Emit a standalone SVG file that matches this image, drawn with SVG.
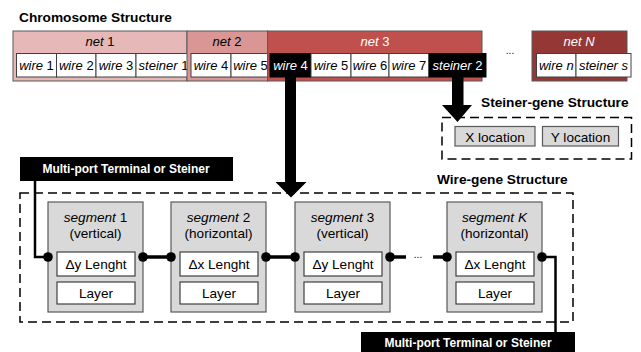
<svg xmlns="http://www.w3.org/2000/svg" width="641" height="352" viewBox="0 0 641 352">
<style>
text{font-family:"Liberation Sans",Arial,sans-serif;fill:#000}
.title{font-size:13.7px;font-weight:bold}
.lab{font-size:13px;text-anchor:middle}
.sl{font-size:13.6px;text-anchor:middle}
.it{font-style:italic}
.net{stroke:#595959;stroke-width:1}
.cell{fill:#fff;stroke:#404040;stroke-width:1}
.cellb{fill:#000;stroke:#000;stroke-width:1}
.w{fill:#fff}
.seg{fill:#d9d9d9;stroke:#595959;stroke-width:1.2}
.inner{fill:#fff;stroke:#404040;stroke-width:1.2}
.dash{fill:none;stroke:#000;stroke-width:1.5;stroke-dasharray:9 5}
.conn{fill:none;stroke:#000;stroke-width:3.5}
.thin{fill:none;stroke:#000;stroke-width:2.5}
.blk{fill:#000}
.tag{font-size:12px;font-weight:bold;fill:#fff;text-anchor:middle}
</style>

<g id="chromosome">
  <text class="title" x="19" y="22">Chromosome Structure</text>
</g>

<g id="net1">
  <rect class="net" x="13" y="31" width="174" height="50" fill="#e6b9b8"/>
  <text class="lab" x="100" y="46"><tspan class="it">net</tspan> 1</text>
  <rect class="cell" x="16.5" y="53.5" width="40" height="23.5"/>
  <rect class="cell" x="56.5" y="53.5" width="39.5" height="23.5"/>
  <rect class="cell" x="96" y="53.5" width="40" height="23.5"/>
  <rect class="cell" x="136" y="53.5" width="55" height="23.5"/>
  <text class="lab" x="36.5" y="70"><tspan class="it">wire</tspan> 1</text>
  <text class="lab" x="76.3" y="70"><tspan class="it">wire</tspan> 2</text>
  <text class="lab" x="116" y="70"><tspan class="it">wire</tspan> 3</text>
  <text class="lab" x="163.5" y="70"><tspan class="it">steiner</tspan> 1</text>
</g>

<g id="net2">
  <rect class="net" x="187" y="31" width="80.5" height="50" fill="#d99694"/>
  <text class="lab" x="227" y="46"><tspan class="it">net</tspan> 2</text>
  <rect class="cell" x="191" y="53.5" width="40" height="23.5"/>
  <rect class="cell" x="231" y="53.5" width="39" height="23.5"/>
  <text class="lab" x="211" y="70"><tspan class="it">wire</tspan> 4</text>
  <text class="lab" x="250.5" y="70"><tspan class="it">wire</tspan> 5</text>
</g>

<g id="net3">
  <rect class="net" x="267.5" y="31" width="214.5" height="50" fill="#c0504d"/>
  <text class="lab w" x="375" y="46"><tspan class="it">net</tspan> 3</text>
  <rect class="cellb" x="270" y="53.5" width="41" height="23.5"/>
  <rect class="cell" x="311" y="53.5" width="40" height="23.5"/>
  <rect class="cell" x="351" y="53.5" width="38" height="23.5"/>
  <rect class="cell" x="389" y="53.5" width="40" height="23.5"/>
  <rect class="cellb" x="429" y="53.5" width="57" height="23.5"/>
  <text class="lab w" x="290.5" y="70"><tspan class="it">wire</tspan> 4</text>
  <text class="lab" x="331" y="70"><tspan class="it">wire</tspan> 5</text>
  <text class="lab" x="370" y="70"><tspan class="it">wire</tspan> 6</text>
  <text class="lab" x="409" y="70"><tspan class="it">wire</tspan> 7</text>
  <text class="lab w" x="457.5" y="70"><tspan class="it">steiner</tspan> 2</text>
</g>

<text x="510" y="54" style="font-size:10px;text-anchor:middle">...</text>

<g id="netN">
  <rect class="net" x="532" y="31" width="95" height="50" fill="#953735"/>
  <text class="lab w it" x="579" y="46">net N</text>
  <rect class="cell" x="536.5" y="53.5" width="39.5" height="23.5"/>
  <rect class="cell" x="576" y="53.5" width="55" height="23.5"/>
  <text class="lab it" x="556.3" y="70">wire n</text>
  <text class="lab it" x="603.5" y="70">steiner s</text>
</g>

<g id="steiner-gene">
  <text class="title" x="481" y="107">Steiner-gene Structure</text>
  <rect class="dash" x="442" y="117.5" width="189.5" height="41.5"/>
  <rect class="seg" x="455" y="126.5" width="80" height="19.5"/>
  <text class="sl" x="495" y="141.5">X location</text>
  <rect class="seg" x="542.5" y="126.5" width="76" height="19.5"/>
  <text class="sl" x="580.5" y="141.5">Y location</text>
</g>

<g id="wire-gene">
  <text class="title" x="437" y="184">Wire-gene Structure</text>
  <rect class="dash" x="20" y="193" width="553" height="129"/>
</g>

<g id="tag-top">
  <rect class="blk" x="20" y="157" width="213" height="24"/>
  <text class="tag" x="126" y="173">Multi-port Terminal or Steiner</text>
</g>

<g id="tag-bottom">
  <rect class="blk" x="361" y="332" width="214" height="22"/>
  <text class="tag" x="468" y="346.5">Multi-port Terminal or Steiner</text>
</g>

<g id="seg1">
  <rect class="seg" x="48" y="202" width="95" height="110"/>
  <text class="sl" x="95.5" y="222"><tspan class="it">segment</tspan> 1</text>
  <text class="sl" x="95.5" y="238">(vertical)</text>
  <rect class="inner" x="57" y="252" width="78" height="24"/>
  <text class="sl" x="96" y="269">Δy Lenght</text>
  <rect class="inner" x="57" y="282" width="78" height="22"/>
  <text class="sl" x="96" y="298">Layer</text>
</g>

<g id="seg2">
  <rect class="seg" x="171" y="202" width="95" height="110"/>
  <text class="sl" x="218.5" y="222"><tspan class="it">segment</tspan> 2</text>
  <text class="sl" x="218.5" y="238">(horizontal)</text>
  <rect class="inner" x="180" y="252" width="78" height="24"/>
  <text class="sl" x="219" y="269">Δx Lenght</text>
  <rect class="inner" x="180" y="282" width="78" height="22"/>
  <text class="sl" x="219" y="298">Layer</text>
</g>

<g id="seg3">
  <rect class="seg" x="295" y="202" width="95" height="110"/>
  <text class="sl" x="342.5" y="222"><tspan class="it">segment</tspan> 3</text>
  <text class="sl" x="342.5" y="238">(vertical)</text>
  <rect class="inner" x="304" y="252" width="78" height="24"/>
  <text class="sl" x="343" y="269">Δy Lenght</text>
  <rect class="inner" x="304" y="282" width="78" height="22"/>
  <text class="sl" x="343" y="298">Layer</text>
</g>

<g id="segK">
  <rect class="seg" x="447" y="202" width="95" height="110"/>
  <text class="sl" x="494.5" y="222"><tspan class="it">segment K</tspan></text>
  <text class="sl" x="494.5" y="238">(horizontal)</text>
  <rect class="inner" x="456" y="252" width="78" height="24"/>
  <text class="sl" x="495" y="269">Δx Lenght</text>
  <rect class="inner" x="456" y="282" width="78" height="22"/>
  <text class="sl" x="495" y="298">Layer</text>
</g>

<g id="connectors">
  <path class="blk" d="M285 77 H296 V182 H306.5 L291 197.5 L275.5 182 H285 Z"/>
  <path class="blk" d="M452 77 H463.5 V105 H472 L457.5 122 L442 105 H452 Z"/>
  <path class="thin" d="M35 181 V257 H48"/>
  <path class="conn" d="M143 257 H171"/>
  <path class="conn" d="M266 257 H295"/>
  <path class="conn" d="M390 257 H406"/>
  <path class="conn" d="M433 257 H447"/>
  <text x="418" y="258" style="font-size:10px;text-anchor:middle">...</text>
  <path class="thin" d="M542 257 H555.5 V332"/>
  <g class="blk">
    <circle cx="48" cy="257" r="4.8"/>
    <circle cx="143" cy="257" r="4.8"/>
    <circle cx="171" cy="257" r="4.8"/>
    <circle cx="266" cy="257" r="4.8"/>
    <circle cx="295" cy="257" r="4.8"/>
    <circle cx="390" cy="257" r="4.8"/>
    <circle cx="447" cy="257" r="4.8"/>
    <circle cx="542" cy="257" r="4.8"/>
  </g>
</g>
</svg>
